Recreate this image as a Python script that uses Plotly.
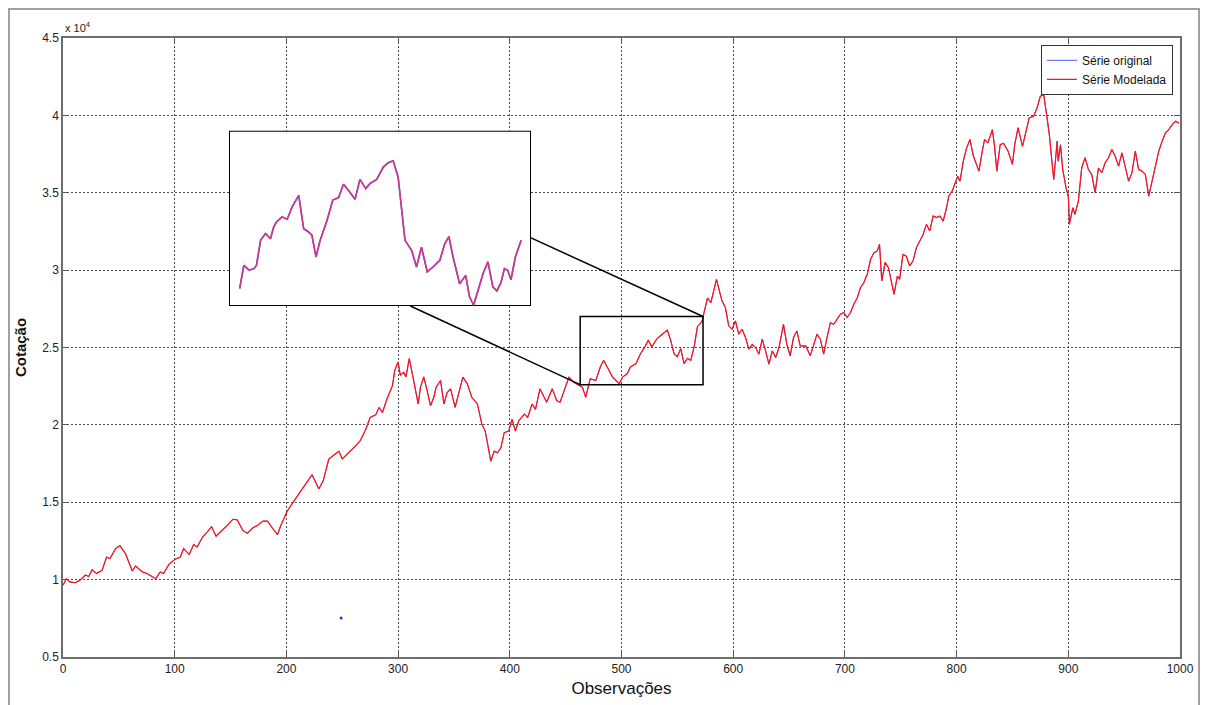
import plotly.graph_objects as go

# ---------------- data (values in units of 10^4) ----------------
obs = [0, 3, 6, 11, 15, 20, 23, 26, 30, 35, 39, 42, 47, 51, 56, 60, 62, 65, 71, 75,
       80, 83, 87, 90, 95, 100, 105, 108, 113, 117, 120, 125, 129, 133, 137, 141, 146, 152, 156, 161,
       165, 170, 174, 179, 183, 188, 192, 195, 201, 207, 215, 223, 229, 233, 238, 244, 247, 250, 256, 262,
       266, 271, 275, 280, 283, 286, 290, 295, 297, 300, 302, 305, 307, 310, 313, 316, 318, 320, 323, 326,
       329, 332, 334, 338, 341, 344, 347, 351, 355, 358, 362, 366, 371, 375, 378, 381, 383, 386, 389, 392,
       395, 399, 402, 405, 408, 413, 416, 420, 423, 427, 430, 433, 438, 442, 445, 450, 453, 457, 462, 465,
       468, 472, 477, 481, 484, 489, 492, 495, 498, 501, 505, 508, 513, 517, 521, 524, 527, 532, 536, 541,
       544, 547, 550, 553, 556, 559, 562, 565, 568, 572,
       577, 580, 585, 588, 590, 593, 596, 599, 602, 605, 608, 611, 614, 617, 620, 623, 626, 629, 632, 635,
       638, 641, 645, 648, 651, 654, 657, 660, 665, 669, 672, 675, 678, 681, 684, 687, 690, 693, 696, 699,
       702, 705, 708, 711, 714, 717, 720, 723, 726, 729, 731, 733, 736, 739, 742, 744, 747, 749, 752, 755,
       758, 761, 764, 767, 770, 773, 776, 779, 782, 785, 788, 791, 793, 796, 799, 801, 803, 806, 809, 812,
       815, 818, 820, 823, 825, 828, 832, 834, 836,
       839, 842, 846, 850, 852, 855, 859, 862, 865, 869, 872, 875, 878, 881, 883, 885, 887, 890, 891, 893,
       895, 898, 900, 901, 904, 906, 909, 912, 915, 918, 921, 924, 927, 930, 933, 936, 939, 942, 945, 948,
       951, 954, 957, 960, 963, 966, 969, 972, 975, 978, 981, 984, 987, 990, 993, 996, 999]

cotacao = [0.963, 1.006, 0.985, 0.98, 0.995, 1.03, 1.02, 1.064, 1.04, 1.06, 1.146, 1.135, 1.2, 1.22, 1.167, 1.10, 1.056, 1.088, 1.05, 1.04,
           1.017, 1.006, 1.05, 1.04, 1.10, 1.13, 1.146, 1.2, 1.163, 1.227, 1.21, 1.275, 1.307, 1.343, 1.28, 1.307, 1.343, 1.39, 1.386, 1.318,
           1.30, 1.335, 1.35, 1.378, 1.378, 1.328, 1.29, 1.35, 1.446, 1.51, 1.597, 1.678, 1.586, 1.64, 1.78, 1.81, 1.83, 1.78, 1.82, 1.865,
           1.896, 1.97, 2.048, 2.065, 2.113, 2.08, 2.167, 2.254, 2.352, 2.406, 2.32, 2.34, 2.31, 2.428, 2.32, 2.2, 2.135, 2.243, 2.31, 2.222,
           2.124, 2.178, 2.243, 2.287, 2.135, 2.21, 2.233, 2.113, 2.222, 2.309, 2.265, 2.178, 2.135, 2.004, 1.96, 1.852, 1.765, 1.83, 1.82, 1.852,
           1.95, 1.96, 2.037, 1.96, 2.026, 2.07, 2.048, 2.135, 2.10, 2.233, 2.19, 2.146, 2.233, 2.157, 2.146, 2.243, 2.309, 2.276, 2.254, 2.243,
           2.178, 2.298, 2.287, 2.374, 2.417, 2.352, 2.309, 2.287, 2.265, 2.309, 2.33, 2.374, 2.396, 2.46, 2.504, 2.548, 2.504, 2.558, 2.58, 2.613,
           2.548, 2.46, 2.44, 2.493, 2.396, 2.43, 2.417, 2.504, 2.635, 2.667,
           2.82, 2.79, 2.94, 2.866, 2.80, 2.758, 2.64, 2.618, 2.672, 2.586, 2.618, 2.565, 2.49, 2.52, 2.50, 2.457, 2.554, 2.478, 2.392, 2.478,
           2.435, 2.50, 2.65, 2.52, 2.446, 2.565, 2.607, 2.51, 2.51, 2.446, 2.52, 2.586, 2.554, 2.457, 2.565, 2.66, 2.65, 2.683, 2.715, 2.726,
           2.694, 2.726, 2.78, 2.82, 2.887, 2.92, 2.973, 3.07, 3.113, 3.124, 3.167, 2.93, 3.05, 3.016, 2.91, 2.844, 2.962, 2.94, 3.102, 3.09,
           3.027, 3.06, 3.145, 3.188, 3.23, 3.296, 3.253, 3.35, 3.34, 3.35, 3.317, 3.403, 3.478, 3.51, 3.575, 3.607, 3.575, 3.704, 3.79, 3.844,
           3.737, 3.672, 3.64, 3.769, 3.844, 3.822, 3.908, 3.80, 3.64,
           3.81, 3.82, 3.77, 3.683, 3.81, 3.92, 3.80, 3.898, 3.984, 3.995, 4.048, 4.124, 4.134, 3.984, 3.876, 3.726, 3.586, 3.833, 3.704, 3.81,
           3.65, 3.532, 3.478, 3.296, 3.403, 3.36, 3.446, 3.66, 3.726, 3.65, 3.618, 3.50, 3.66, 3.63, 3.694, 3.726, 3.78, 3.736, 3.672, 3.758,
           3.66, 3.575, 3.63, 3.769, 3.65, 3.64, 3.618, 3.478, 3.575, 3.683, 3.769, 3.833, 3.887, 3.908, 3.94, 3.962, 3.95]

# isolated point of the original series
stray_obs = [249]
stray_val = [0.752]

# zoomed window (inset)
zoom_x = [463, 573]
zoom_y = [2.26, 2.70]
inset_obs = [466.9, 468.4, 470.3, 472.1, 473.0, 474.5, 476.3, 478.1, 479.3, 480.3, 482.3, 484.2, 486.0, 488.4,
             490.2, 492.0, 493.2, 494.7, 496.2, 498.7, 500.8, 502.9, 504.7, 506.5, 508.9, 510.7, 512.8, 514.4,
             516.8, 519.2, 521.0, 522.8, 524.6, 525.9, 527.1, 529.5, 531.3, 533.1, 535.2, 537.3, 539.8, 541.6,
             543.1, 544.6, 547.0, 549.2, 550.6, 552.1, 553.7, 555.5, 557.3, 559.1, 560.6, 562.1, 563.3, 564.5,
             565.7, 567.3, 569.4]
inset_val = [2.304, 2.362, 2.350, 2.354, 2.362, 2.425, 2.442, 2.429, 2.459, 2.471, 2.484, 2.478, 2.509, 2.538,
             2.454, 2.446, 2.438, 2.383, 2.425, 2.475, 2.526, 2.532, 2.566, 2.551, 2.528, 2.578, 2.555, 2.568,
             2.578, 2.609, 2.620, 2.625, 2.584, 2.509, 2.425, 2.400, 2.358, 2.408, 2.346, 2.358, 2.375, 2.417,
             2.434, 2.383, 2.316, 2.337, 2.283, 2.262, 2.299, 2.341, 2.371, 2.308, 2.298, 2.320, 2.354, 2.350,
             2.326, 2.383, 2.425]

y_ticks = [0.5, 1, 1.5, 2, 2.5, 3, 3.5, 4, 4.5]
y_ticktext = ["0.5", "1", "1.5", "2", "2.5", "3", "3.5", "4", "4.5"]
x_ticks = [0, 100, 200, 300, 400, 500, 600, 700, 800, 900, 1000]

# inset placement (paper fractions)
inset_dom_x = [0.1486, 0.419]
inset_dom_y = [0.567, 0.850]

FONT = "Liberation Sans, Arial, sans-serif"
BLUE = "rgb(40,40,255)"
RED = "rgb(255,20,20)"

fig = go.Figure()

fig.add_trace(go.Scatter(x=obs, y=cotacao, mode="lines", name="Série original",
                         line=dict(color=BLUE, width=0.8)))
fig.add_trace(go.Scatter(x=obs, y=cotacao, mode="lines", name="Série Modelada",
                         line=dict(color=RED, width=1.2)))
fig.add_trace(go.Scatter(x=stray_obs, y=stray_val, mode="markers", showlegend=False,
                         marker=dict(color=BLUE, size=3)))

# inset
fig.add_trace(go.Scatter(x=inset_obs, y=inset_val, mode="lines", showlegend=False,
                         line=dict(color=BLUE, width=1.6), xaxis="x2", yaxis="y2"))
fig.add_trace(go.Scatter(x=inset_obs, y=inset_val, mode="lines", showlegend=False,
                         line=dict(color="rgb(255,60,100)", width=1.5), opacity=0.8, xaxis="x2", yaxis="y2"))

axis_common = dict(showline=True, linecolor="#6e6e6e", linewidth=1.5, mirror="ticks",
                   ticks="inside", ticklen=6, tickcolor="#555", showgrid=True,
                   gridcolor="#4a4a4a", griddash="1.5px,2.5px", gridwidth=1.2, zeroline=False,
                   tickfont=dict(family=FONT, size=12, color="#222"))

fig.update_layout(
    width=1208, height=705,
    margin=dict(l=55, r=36, t=30, b=56),
    paper_bgcolor="white", plot_bgcolor="white",
    font=dict(family=FONT, color="#111"),
    xaxis=dict(range=[0, 1000], tickvals=x_ticks, **axis_common,
               title=dict(text="Observações", font=dict(family=FONT, size=17, color="#111"), standoff=7)),
    yaxis=dict(range=[0.5, 4.5], tickvals=y_ticks, ticktext=y_ticktext, **axis_common,
               title=dict(text="<b>Cotação</b>", font=dict(family=FONT, size=15, color="#111"), standoff=12)),
    xaxis2=dict(domain=inset_dom_x, range=[zoom_x[0], zoom_x[1]], anchor="y2",
                showgrid=False, zeroline=False, showticklabels=False, ticks="", showline=False),
    yaxis2=dict(domain=inset_dom_y, range=[zoom_y[0], zoom_y[1]], anchor="x2",
                showgrid=False, zeroline=False, showticklabels=False, ticks="", showline=False),
    legend=dict(x=0.9937, y=0.989, xanchor="right", yanchor="top",
                bgcolor="white", bordercolor="#333", borderwidth=1,
                font=dict(family=FONT, size=12, color="#111"), tracegroupgap=0),
    showlegend=True,
)

# inset background/frame (drawn in the inset subplot layer, beneath its lines)
fig.add_shape(type="rect", xref="x2", yref="y2", x0=zoom_x[0], x1=zoom_x[1], y0=zoom_y[0], y1=zoom_y[1],
              fillcolor="white", line=dict(color="black", width=2), layer="below")

# zoom rectangle on the main plot
fig.add_shape(type="rect", xref="x", yref="y", x0=zoom_x[0], x1=zoom_x[1], y0=zoom_y[0], y1=zoom_y[1],
              line=dict(color="black", width=1.5), layer="above")

# connector lines (inset edge -> rectangle corners), in main-axis coordinates
def paper_to_data(px, py):
    return px * 1000, 0.5 + py * 4

ax1, ay1 = paper_to_data(inset_dom_x[1], 0.677)
fig.add_shape(type="line", xref="x", yref="y", x0=ax1, y0=ay1, x1=zoom_x[1], y1=zoom_y[1],
              line=dict(color="black", width=1.5), layer="above")
ax2, ay2 = paper_to_data(0.311, inset_dom_y[0])
fig.add_shape(type="line", xref="x", yref="y", x0=ax2, y0=ay2, x1=zoom_x[0], y1=zoom_y[0],
              line=dict(color="black", width=1.5), layer="above")

# outer window frame
fig.add_shape(type="rect", xref="paper", yref="paper", x0=-54 / 1117, x1=1136 / 1117, y0=-0.3, y1=1 + 29 / 619,
              line=dict(color="#a0a0a0", width=2), fillcolor="rgba(0,0,0,0)", layer="below")

# exponent label
fig.add_annotation(xref="paper", yref="paper", x=0.0, y=1.0, xanchor="left", yanchor="bottom",
                   text="x 10<sup>4</sup>", showarrow=False,
                   font=dict(family=FONT, size=11, color="#222"), yshift=2)

fig.write_html("out.html")
